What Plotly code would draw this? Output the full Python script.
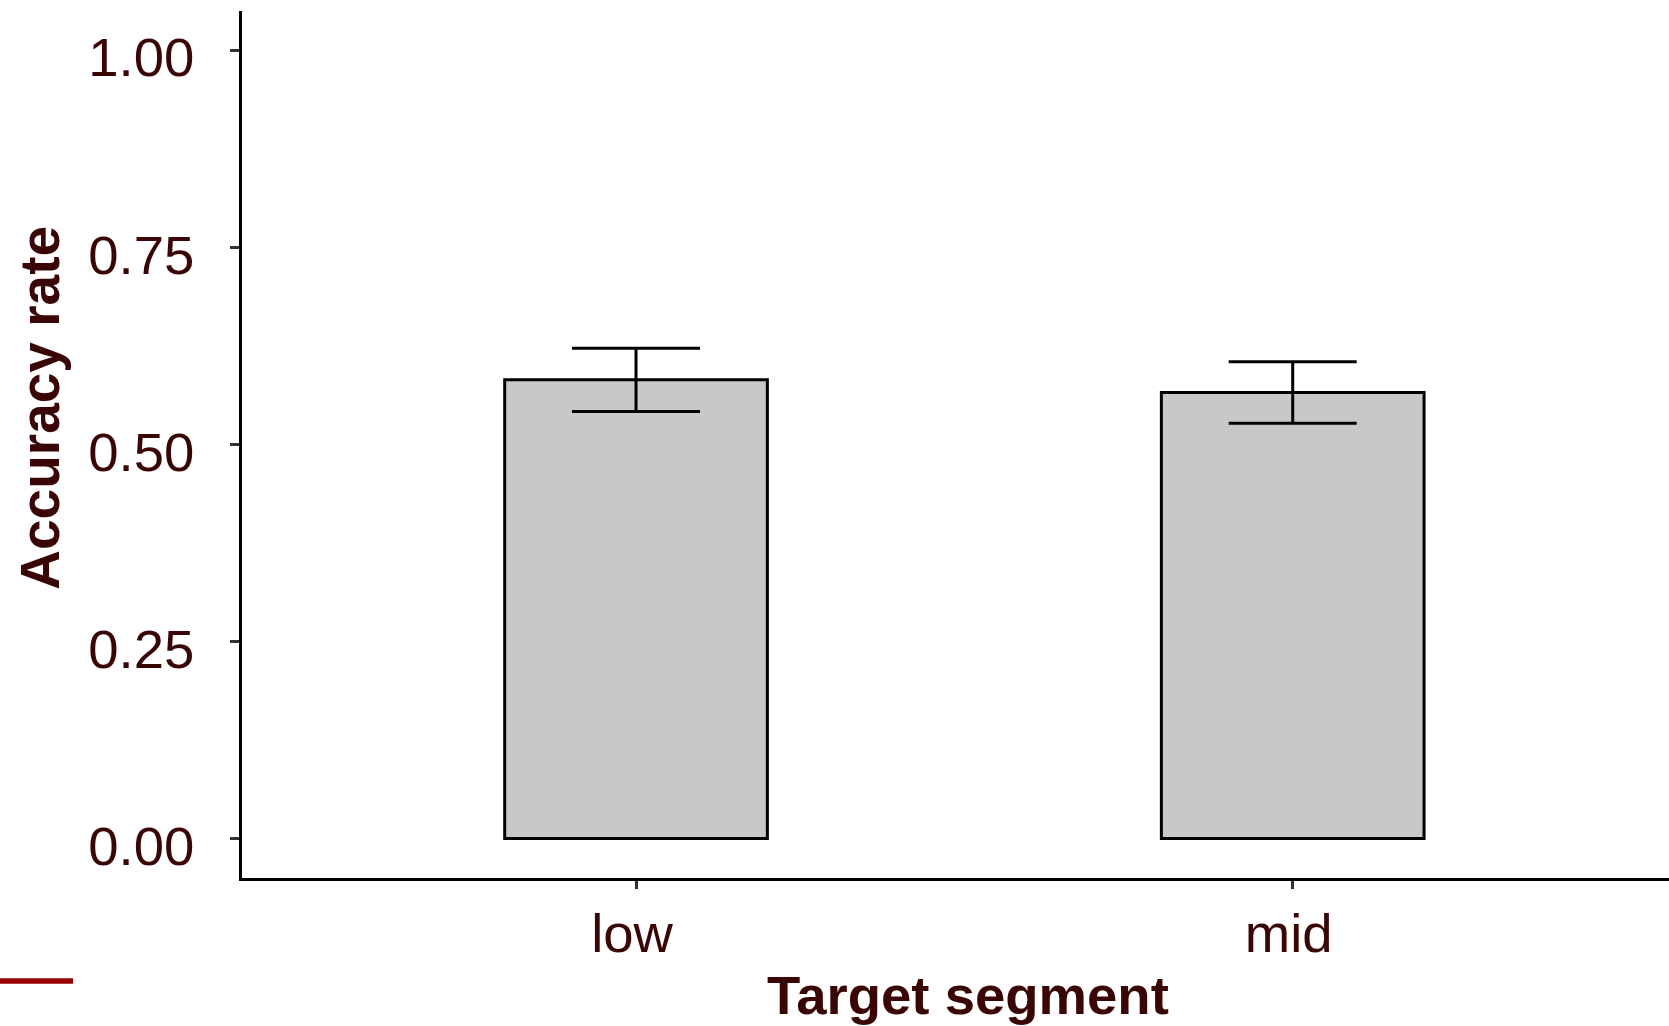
import plotly.graph_objects as go

categories = ["low", "mid"]
accuracy = [0.582, 0.566]
errors = [0.040, 0.039]
y_ticks = [0.0, 0.25, 0.5, 0.75, 1.0]
y_tick_labels = ["0.00", "0.25", "0.50", "0.75", "1.00"]

TEXT = "#3a0505"
FONT = "Liberation Sans, Arial, Helvetica, sans-serif"

fig = go.Figure()
fig.add_trace(go.Bar(
    x=categories, y=accuracy, width=0.4,
    marker=dict(color="#c8c8c8", line=dict(color="black", width=3)),
    error_y=dict(type="data", array=errors, visible=True,
                 color="black", thickness=3, width=64),
    showlegend=False,
))

fig.update_layout(
    width=1669, height=1026,
    margin=dict(l=242, r=0, t=11, b=148, pad=0),
    paper_bgcolor="white", plot_bgcolor="white",
    font=dict(family=FONT, color=TEXT, size=54),
    xaxis=dict(type="category", range=[-0.6, 1.573],
               showline=True, linecolor="black", linewidth=2.5,
               ticks="outside", ticklen=8, tickwidth=2.5, tickcolor="#333333",
               showgrid=False, zeroline=False,
               tickfont=dict(size=54.5, color=TEXT, family=FONT),
               ticklabelstandoff=-2, ticklabelshift=-4),
    yaxis=dict(range=[-0.05, 1.05], tickvals=y_ticks, ticktext=y_tick_labels,
               showline=True, linecolor="black", linewidth=2.5,
               ticks="outside", ticklen=9, tickwidth=2.5, tickcolor="#333333",
               showgrid=False, zeroline=False,
               tickfont=dict(size=54.5, color=TEXT, family=FONT),
               ticklabelstandoff=25, ticklabelshift=7),
    annotations=[
        dict(text="<b>Accuracy rate</b>", xref="paper", yref="paper",
             x=-0.1412, y=0.5418, xanchor="center", yanchor="middle",
             textangle=-90, showarrow=False,
             font=dict(size=55, color=TEXT, family=FONT)),
        dict(text="<b>Target segment</b>", xref="paper", yref="paper",
             x=0.5088, y=-0.0975, xanchor="center", yanchor="top",
             showarrow=False,
             font=dict(size=54.5, color=TEXT, family=FONT)),
    ],
    shapes=[
        dict(type="line", xref="paper", yref="paper",
             x0=-0.1696, x1=-0.1184, y0=-0.1187, y1=-0.1187,
             line=dict(color="#990000", width=5.5)),
    ],
)

fig.write_html("out.html",
               config={"displayModeBar": False},
               post_script="document.body.style.margin='0';document.body.style.overflow='hidden';")
